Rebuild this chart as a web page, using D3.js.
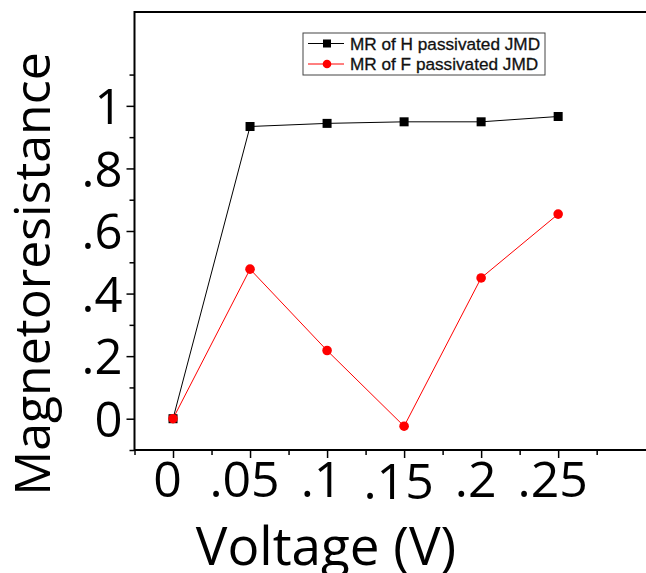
<!DOCTYPE html>
<html>
<head>
<meta charset="utf-8">
<script src="https://cdn.jsdelivr.net/npm/d3@7"></script>
<style>
  body { margin: 0; background: #fff; }
  text { font-family: "Open Sans", sans-serif; }
</style>
</head>
<body>
<svg id="chart"></svg>
<script>
// data
let voltage = [0, 0.05, 0.1, 0.15, 0.2, 0.25]
let mrH = [0, 0.934, 0.944, 0.949, 0.949, 0.966]
let mrF = [0, 0.478, 0.218, -0.024, 0.45, 0.654]
let seriesNames = ['MR of H passivated JMD', 'MR of F passivated JMD']

let xMajor = [0, 0.05, 0.1, 0.15, 0.2, 0.25]
let xLabels = ['0', '.05', '.1', '.15', '.2', '.25']
let xMinor = [-0.025, 0.025, 0.075, 0.125, 0.175, 0.225, 0.275]
let yMajor = [0, 0.2, 0.4, 0.6, 0.8, 1]
let yLabels = ['0', '.2', '.4', '.6', '.8', '1']
let yMinor = [-0.1, 0.1, 0.3, 0.5, 0.7, 0.9, 1.1]

let W = 646, H = 573

let svg = d3.select('#chart').attr('width', W).attr('height', H)

let x = d3.scaleLinear().domain([-0.025, 0.32]).range([134.5, 666])
let y = d3.scaleLinear().domain([-0.1, 1.3]).range([450, 12])

// frame (right side runs off the page)
svg.append('path')
	.attr('d', `M ${x(0.32)} ${y(1.3)} H ${x(-0.025)} V ${y(-0.1)} H ${x(0.32)}`)
	.attr('fill', 'none')
	.attr('stroke', '#000')
	.attr('stroke-width', 2)

// y axis ticks
let yAxis = svg.append('g').attr('transform', `translate(${x(-0.025)},0)`)
yAxis.call(d3.axisLeft(y).tickValues(yMajor).tickSize(8).tickFormat((d, i) => yLabels[i]))
yAxis.select('.domain').remove()
yAxis.selectAll('text')
	.style('font-size', '49px')
	.attr('fill', '#000')
	.attr('x', -12)
	.attr('dy', '0.36em')
yAxis.selectAll('line').attr('stroke-width', 1.5)
let yAxisMin = svg.append('g').attr('transform', `translate(${x(-0.025)},0)`)
yAxisMin.call(d3.axisLeft(y).tickValues(yMinor).tickSize(5).tickFormat(''))
yAxisMin.select('.domain').remove()
yAxisMin.selectAll('line').attr('stroke-width', 1.5)

// x axis ticks
let xAxis = svg.append('g').attr('transform', `translate(0,${y(-0.1)})`)
xAxis.call(d3.axisBottom(x).tickValues(xMajor).tickSize(8).tickFormat((d, i) => xLabels[i]))
xAxis.select('.domain').remove()
xAxis.selectAll('text')
	.style('font-size', '50px')
	.attr('fill', '#000')
	.attr('x', -6)
	.attr('y', (d, i) => i == 3 ? 49 : 47)
	.attr('dy', 0)
xAxis.selectAll('line').attr('stroke-width', 1.5)
let xAxisMin = svg.append('g').attr('transform', `translate(0,${y(-0.1)})`)
xAxisMin.call(d3.axisBottom(x).tickValues(xMinor).tickSize(5).tickFormat(''))
xAxisMin.select('.domain').remove()
xAxisMin.selectAll('line').attr('stroke-width', 1.5)

// axis titles
svg.append('text')
	.attr('x', 326)
	.attr('y', 565)
	.attr('text-anchor', 'middle')
	.style('font-size', '53px')
	.text('Voltage (V)')

svg.append('text')
	.attr('transform', 'translate(50,274) rotate(-90)')
	.attr('text-anchor', 'middle')
	.style('font-size', '50px')
	.text('Magnetoresistance')

// series
let line = d3.line().x((d, i) => x(voltage[i])).y(d => y(d))

svg.append('path')
	.datum(mrH)
	.attr('d', line)
	.attr('fill', 'none')
	.attr('stroke', '#000')
	.attr('stroke-width', 1)

svg.append('path')
	.datum(mrF)
	.attr('d', line)
	.attr('fill', 'none')
	.attr('stroke', '#ff0000')
	.attr('stroke-width', 1)

svg.append('g').selectAll('rect').data(mrH)
	.enter()
	.append('rect')
	.attr('x', (d, i) => x(voltage[i]) - 4.5)
	.attr('y', d => y(d) - 4.5)
	.attr('width', 9)
	.attr('height', 9)
	.attr('fill', '#000')

svg.append('g').selectAll('circle').data(mrF)
	.enter()
	.append('circle')
	.attr('cx', (d, i) => x(voltage[i]))
	.attr('cy', d => y(d))
	.attr('r', 4.8)
	.attr('fill', '#ff0000')

// legend
let leg = svg.append('g').attr('transform', 'translate(303,33)')
leg.append('rect')
	.attr('width', 242)
	.attr('height', 42)
	.attr('fill', '#fff')
	.attr('stroke', '#444')
	.attr('stroke-width', 1)

let legColors = ['#000', '#ff0000']
seriesNames.forEach((name, i) => {
	let g = leg.append('g').attr('transform', `translate(0,${10.5 + i * 20.5})`)
	g.append('line')
		.attr('x1', 5).attr('x2', 41)
		.attr('stroke', legColors[i]).attr('stroke-width', 1)
	if (i == 0) {
		g.append('rect').attr('x', 20).attr('y', -4).attr('width', 8).attr('height', 8).attr('fill', '#000')
	} else {
		g.append('circle').attr('cx', 24).attr('r', 4.3).attr('fill', '#ff0000')
	}
	g.append('text')
		.attr('x', 47)
		.attr('dy', '0.36em')
		.style('font-family', '"Liberation Sans", Arial, sans-serif')
		.style('font-size', '17.2px')
		.attr('fill', '#111')
		.attr('stroke', '#111')
		.attr('stroke-width', 0.3)
		.text(name)
})
</script>
</body>
</html>
